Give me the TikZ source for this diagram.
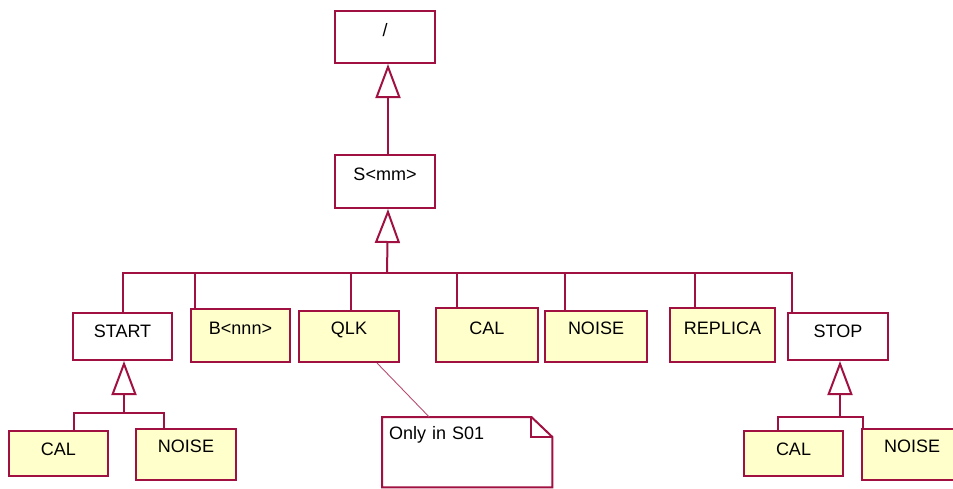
\documentclass[tikz,border=0pt]{standalone}
\usepackage{fontspec}
\setmainfont{Liberation Sans}
\usetikzlibrary{arrows.meta}
\definecolor{rr}{RGB}{160,16,64}
\definecolor{ry}{RGB}{255,255,204}
\tikzset{
  box/.style={draw=rr, line width=2pt, inner sep=0pt, anchor=north west,
    font=\fontsize{18pt}{20pt}\selectfont},
  cls/.style={box, fill=white},
  yel/.style={box, fill=ry},
  sz/.style n args={3}{minimum width=#1pt, text height=#2pt, text depth=#3pt},
  conn/.style={draw=rr, line width=2pt},
  gen/.style={conn, -{Triangle[open, length=34pt, width=25pt]}},
  anchorline/.style={draw=rr!75, line width=0.9pt},
  notebox/.style={anchor=north west, inner ysep=0pt, inner xsep=7pt, text width=156pt,
    align=left, text height=22pt, text depth=48pt,
    font=\fontsize{18pt}{20pt}\selectfont},
}
\begin{document}
\begin{tikzpicture}[x=1pt,y=-1pt]
\useasboundingbox (0,0) rectangle (953,488);
\clip (0,0) rectangle (953,488);
% nodes
\node[cls, sz={100}{25}{27}] (top) at (334,10) {/};
\node[cls, sz={100}{25}{28}] (smm) at (334,154) {S<mm>};
\node[cls, sz={99}{24}{23}] (start) at (72,312) {START};
\node[yel, sz={99}{25}{28}] (bnnn) at (190,308) {B<nnn>};
\node[yel, sz={100}{23}{28}] (qlk) at (298,310) {QLK};
\node[yel, sz={102}{26}{28}] (cal) at (435,307) {CAL};
\node[yel, sz={102}{23}{28}] (noise) at (544,310) {NOISE};
\node[yel, sz={105}{26}{28}] (replica) at (669,307) {REPLICA};
\node[cls, sz={100}{24}{23}] (stop) at (787,312) {STOP};
\node[yel, sz={99}{24}{21}] (cala) at (8,430) {CAL};
\node[yel, sz={100}{23}{28}] (noisea) at (135,428) {NOISE};
\node[yel, sz={99}{24}{21}] (calb) at (743,430) {CAL};
\node[yel, sz={100}{23}{28}] (noiseb) at (861,428) {NOISE};
% note
\node[notebox] (note) at (382,417) {Only in S01};
\draw[conn] (note.north west) -- ([xshift=-21pt]note.north east)
  -- ([yshift=-20pt]note.north east) -- (note.south east) -- (note.south west) -- cycle;
\draw[conn] ([xshift=-21pt]note.north east) -- ([xshift=-21pt,yshift=-20pt]note.north east)
  -- ([yshift=-20pt]note.north east);
\draw[anchorline] ([xshift=28pt]qlk.south) -- ([xshift=-38pt]note.north);
% top generalisations
\draw[gen] ([xshift=3pt]smm.north) -- ([xshift=3pt]top.south);
\coordinate (j) at (387,273);
\draw[gen] (j) -- ([xshift=3pt]smm.south);
% main bar
\coordinate (dstart) at (start.north);
\coordinate (dbnnn) at ([xshift=-45.5pt]bnnn.north);
\coordinate (dqlk) at ([xshift=2pt]qlk.north);
\coordinate (dcal) at ([xshift=-30pt]cal.north);
\coordinate (dnoise) at ([xshift=-31pt]noise.north);
\coordinate (dreplica) at ([xshift=-27.5pt]replica.north);
\coordinate (dstop) at ([xshift=-46pt]stop.north);
\draw[conn] (dstart) |- (j) -| (dstop);
\foreach \d in {dbnnn,dqlk,dcal,dnoise,dreplica}
  \draw[conn] (\d) -- (\d |- j);
% START children
\coordinate (sj) at (124,413);
\draw[gen] (sj) -- (sj |- start.south);
\coordinate (dcala) at ([xshift=15.5pt]cala.north);
\coordinate (dnoisea) at ([xshift=-22pt]noisea.north);
\draw[conn] (dcala) |- (sj) -| (dnoisea);
% STOP children
\coordinate (tj) at (840,417);
\draw[gen] (tj) -- (tj |- stop.south);
\coordinate (dcalb) at ([xshift=-15.5pt]calb.north);
\coordinate (dnoiseb) at ([xshift=-49pt]noiseb.north);
\draw[conn] (dcalb) |- (tj) -| (dnoiseb);
\end{tikzpicture}
\end{document}
